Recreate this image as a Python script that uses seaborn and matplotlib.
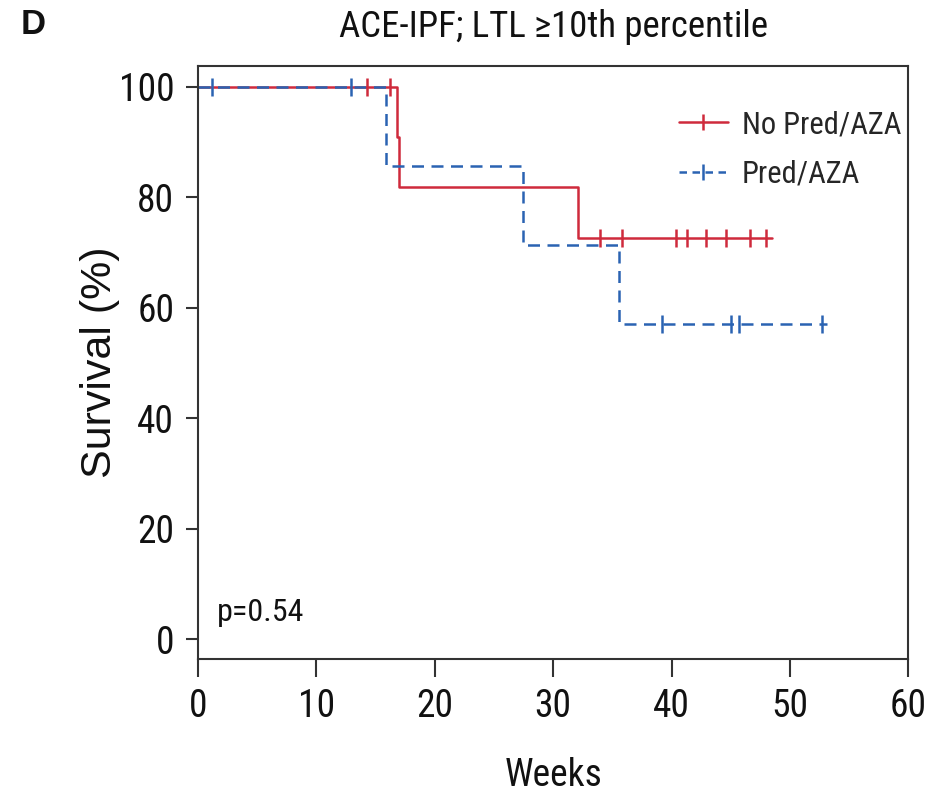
import matplotlib
matplotlib.use("Agg")
import matplotlib.pyplot as plt
from matplotlib import font_manager as fm
import pandas as pd
import seaborn as sns
from matplotlib.lines import Line2D

# Kaplan-Meier step curves (week of change, survival % from that week on)
groups = ["No Pred/AZA", "Pred/AZA"]
no_pred_weeks = [0, 16.8, 17.0, 32.1, 48.5]
no_pred_surv = [100, 90.9, 81.8, 72.7, 72.7]
pred_weeks = [0, 15.9, 27.5, 35.6, 53.1]
pred_surv = [100, 85.7, 71.4, 57.1, 57.1]

# censored observations
no_pred_cens_weeks = [14.3, 16.2, 34.0, 35.8, 40.4, 41.3, 42.9, 44.6, 46.6, 48.0]
no_pred_cens_surv = [100, 100, 72.7, 72.7, 72.7, 72.7, 72.7, 72.7, 72.7, 72.7]
pred_cens_weeks = [1.2, 12.9, 39.2, 45.0, 45.7, 52.7]
pred_cens_surv = [100, 100, 57.1, 57.1, 57.1, 57.1]

x_ticks = [0, 10, 20, 30, 40, 50, 60]
y_ticks = [0, 20, 40, 60, 80, 100]
p_text = "p=0.54"
title = "ACE-IPF; LTL \u226510th percentile"

RED = "#cf2a3c"
BLUE = "#2a63b2"
palette = {groups[0]: RED, groups[1]: BLUE}

curves = pd.concat([
    pd.DataFrame({"week": no_pred_weeks, "survival": no_pred_surv, "group": groups[0]}),
    pd.DataFrame({"week": pred_weeks, "survival": pred_surv, "group": groups[1]}),
], ignore_index=True)
censored = pd.concat([
    pd.DataFrame({"week": no_pred_cens_weeks, "survival": no_pred_cens_surv, "group": groups[0]}),
    pd.DataFrame({"week": pred_cens_weeks, "survival": pred_cens_surv, "group": groups[1]}),
], ignore_index=True)


def condensed_font():
    """Return (family, stretch) of an installed narrow sans face, if any."""
    def is_narrow(f):
        st = f.stretch
        if isinstance(st, str):
            return "condensed" in st
        return isinstance(st, (int, float)) and st < 500
    preferred = ["Liberation Sans Narrow", "Arial Narrow", "Roboto Condensed",
                 "Open Sans Condensed", "Noto Sans", "DejaVu Sans"]
    faces = [f for f in fm.fontManager.ttflist
             if f.style == "normal" and f.weight in (400, "normal", "regular")]
    for name in preferred:
        for f in faces:
            if f.name == name and ("Narrow" in name or "Condensed" in name or is_narrow(f)):
                return f.name, f.stretch
    for f in faces:
        if "Narrow" in f.name or "Condensed" in f.name or is_narrow(f):
            return f.name, f.stretch
    return "Liberation Sans", "normal"


sns.set_style("ticks")
fam, stretch = condensed_font()
plt.rcParams["font.family"] = [fam, "Liberation Sans", "DejaVu Sans"]
plt.rcParams["font.stretch"] = stretch
plt.rcParams["axes.edgecolor"] = "#333333"
plt.rcParams["xtick.color"] = "#333333"
plt.rcParams["ytick.color"] = "#333333"

fig = plt.figure(figsize=(9.31, 7.96), dpi=100)
ax = fig.add_axes([0.2124, 0.1717, 0.7634, 0.7458])

lw = 1.8
sns.lineplot(data=curves, x="week", y="survival", hue="group", style="group",
             palette=palette, dashes={groups[0]: "", groups[1]: (4.8, 3.0)},
             drawstyle="steps-post", estimator=None, sort=False,
             linewidth=lw, legend=False, ax=ax)
for g in groups:
    sns.scatterplot(data=censored[censored["group"] == g], x="week", y="survival",
                    marker="|", s=160, linewidth=1.8, color=palette[g],
                    legend=False, ax=ax, zorder=3)

ax.set_xlim(0, 60)
ax.set_ylim(-3.6, 103.8)
ax.set_xticks(x_ticks)
ax.set_yticks(y_ticks)
for s in ax.spines.values():
    s.set_linewidth(1.5)
ax.tick_params(axis="x", length=13, width=1.5, pad=8, labelsize=27, labelcolor="#111111")
ax.tick_params(axis="y", length=9, width=1.5, pad=8, labelsize=27, labelcolor="#111111")

ax.set_xlabel("Weeks", fontsize=27, color="#111111")
ax.xaxis.set_label_coords(0.5, -0.165)
ax.set_ylabel("Survival (%)", fontsize=31, color="#111111",
              family=["Liberation Sans", "DejaVu Sans"], stretch="normal")
ax.yaxis.set_label_coords(-0.11, 0.5)

ax.set_title(title, fontsize=26.5, pad=21, color="#111111")
fig.text(0.022, 0.9686, "D", fontsize=25, fontweight="bold", va="center", ha="left",
         color="#111111", family=["Liberation Sans", "DejaVu Sans"], stretch="normal")
ax.text(1.6, 4.9, p_text, fontsize=23, ha="left", va="center", color="#111111")

handles = [
    Line2D([], [], color=RED, lw=lw, marker="|", markersize=11, markeredgewidth=1.8),
    Line2D([], [], color=BLUE, lw=lw, ls=(0, (3.0, 2.2)), marker="|", markersize=11,
           markeredgewidth=1.8),
]
ax.legend(handles, groups, loc="upper left", bbox_to_anchor=(0.677, 0.925),
          frameon=False, fontsize=22, handlelength=1.6, handletextpad=0.45,
          labelspacing=0.68, borderpad=0, borderaxespad=0)

fig.savefig("out.png", dpi=100)
